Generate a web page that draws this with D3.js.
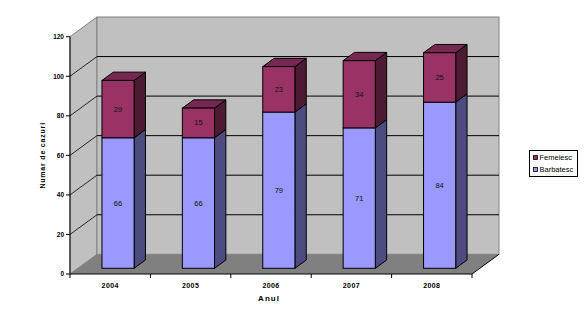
<!DOCTYPE html>
<html>
<head>
<meta charset="utf-8">
<script src="https://cdn.jsdelivr.net/npm/d3@7"></script>
<style>
  html, body { margin: 0; padding: 0; background: #fff; }
  svg { display: block; }
  text { font-family: Arial, "Liberation Sans", sans-serif; }
</style>
</head>
<body>
<svg id="chart" width="587" height="327"></svg>
<script>
// Cases per year, split by sex (stacked)
const years = ["2004", "2005", "2006", "2007", "2008"];
const barbatesc = [66, 66, 79, 71, 84];
const femeiesc = [29, 15, 23, 34, 25];
const yTicks = [0, 20, 40, 60, 80, 100, 120];
const seriesNames = ["Barbatesc", "Femeiesc"];

const svg = d3.select("#chart");

// Front plane of the 3D box
const x0 = 70, x1 = 472, yBase = 274, yTop = 36.7;
// Depth vector of the box (front -> back wall)
const DX = 27, DY = -19.7;

const x = d3.scaleBand().domain(years).range([x0, x1])
  .paddingInner(0.6).paddingOuter(0.3);
const y = d3.scaleLinear().domain([0, 120]).range([yBase, yTop]);

const colors = {
  Barbatesc: { front: "#9999ff", side: "#4c4c80", top: "#7a7acc" },
  Femeiesc: { front: "#993366", side: "#4d1a33", top: "#772850" }
};

const poly = pts => pts.map(p => p.join(",")).join(" ");

// Left side wall
svg.append("polygon")
  .attr("points", poly([[x0, y(120)], [x0 + DX, y(120) + DY], [x0 + DX, y(0) + DY], [x0, y(0)]]))
  .attr("fill", "#c0c0c0").attr("stroke", "#808080").attr("stroke-width", 1);

// Back wall
svg.append("rect")
  .attr("x", x0 + DX).attr("y", y(120) + DY)
  .attr("width", x1 - x0).attr("height", y(0) - y(120))
  .attr("fill", "#c0c0c0").attr("stroke", "#808080").attr("stroke-width", 1);

// Floor
svg.append("polygon")
  .attr("points", poly([[x0, y(0)], [x1, y(0)], [x1 + DX, y(0) + DY], [x0 + DX, y(0) + DY]]))
  .attr("fill", "#808080");

// Gridlines on back wall and left wall
const grid = svg.append("g");
yTicks.filter(t => t > 0 && t < 120).forEach(t => {
  grid.append("line")
    .attr("x1", x0 + DX).attr("x2", x1 + DX)
    .attr("y1", y(t) + DY).attr("y2", y(t) + DY)
    .attr("stroke", "#000").attr("stroke-width", 1);
  grid.append("line")
    .attr("x1", x0).attr("x2", x0 + DX)
    .attr("y1", y(t)).attr("y2", y(t) + DY)
    .attr("stroke", "#000").attr("stroke-width", 0.8);
});
// Right floor edge
svg.append("line")
  .attr("x1", x1).attr("y1", y(0)).attr("x2", x1 + DX).attr("y2", y(0) + DY)
  .attr("stroke", "#000").attr("stroke-width", 1);

// Bars: front face offset into the box and their own depth
const fOff = 0.29, bDepth = 0.42;
const ox = DX * fOff, oy = DY * fOff;
const bx = DX * bDepth, by = DY * bDepth;

const stacked = years.map((yr, i) => {
  const segs = [];
  let acc = 0;
  [["Barbatesc", barbatesc[i]], ["Femeiesc", femeiesc[i]]].forEach(([name, v]) => {
    segs.push({ year: yr, name, v, y0: acc, y1: acc + v });
    acc += v;
  });
  return segs;
});

const bars = svg.append("g");
stacked.forEach(segs => {
  segs.forEach((s, k) => {
    const L = x(s.year) + ox, R = L + x.bandwidth();
    const T = y(s.y1) + oy, B = y(s.y0) + oy;
    const c = colors[s.name];
    const g = bars.append("g");
    // side face
    g.append("polygon")
      .attr("points", poly([[R, T], [R + bx, T + by], [R + bx, B + by], [R, B]]))
      .attr("fill", c.side).attr("stroke", "#000").attr("stroke-width", 1);
    // top face (only visible on the uppermost segment)
    if (k === segs.length - 1) {
      g.append("polygon")
        .attr("points", poly([[L, T], [L + bx, T + by], [R + bx, T + by], [R, T]]))
        .attr("fill", c.top).attr("stroke", "#000").attr("stroke-width", 1);
    }
    // front face
    g.append("rect")
      .attr("x", L).attr("y", T).attr("width", R - L).attr("height", B - T)
      .attr("fill", c.front).attr("stroke", "#000").attr("stroke-width", 1);
    // value label
    g.append("text")
      .attr("x", (L + R) / 2).attr("y", (T + B) / 2 + 2.5)
      .attr("text-anchor", "middle")
      .attr("font-size", 7.5).attr("fill", "#111")
      .text(s.v);
  });
});

// Value axis
const yAxis = svg.append("g");
yAxis.append("line")
  .attr("x1", x0).attr("x2", x0).attr("y1", y(120)).attr("y2", y(0))
  .attr("stroke", "#000").attr("stroke-width", 1);
yTicks.forEach(t => {
  yAxis.append("line")
    .attr("x1", x0 - 4).attr("x2", x0).attr("y1", y(t)).attr("y2", y(t))
    .attr("stroke", "#000").attr("stroke-width", 1);
  yAxis.append("text")
    .attr("x", x0 - 6).attr("y", y(t) + 2.3)
    .attr("text-anchor", "end")
    .attr("font-size", 6.5).attr("font-weight", "bold")
    .text(t);
});

// Category axis
const xAxis = svg.append("g");
xAxis.append("line")
  .attr("x1", x0).attr("x2", x1).attr("y1", y(0)).attr("y2", y(0))
  .attr("stroke", "#000").attr("stroke-width", 1);
const step = x.step();
d3.range(years.length + 1).forEach(i => {
  const tx = x0 + i * step;
  xAxis.append("line")
    .attr("x1", tx).attr("x2", tx).attr("y1", y(0)).attr("y2", y(0) + 4)
    .attr("stroke", "#000").attr("stroke-width", 1);
});
years.forEach(yr => {
  xAxis.append("text")
    .attr("x", x(yr) + x.bandwidth() / 2).attr("y", 287.5)
    .attr("text-anchor", "middle")
    .attr("font-size", 7).attr("font-weight", "bold")
    .attr("letter-spacing", 0.4)
    .text(yr);
});

// Axis titles
svg.append("text")
  .attr("x", (x0 + x1) / 2 - 2).attr("y", 300.5)
  .attr("text-anchor", "middle")
  .attr("font-size", 8).attr("font-weight", "bold")
  .attr("letter-spacing", 1)
  .text("Anul");
svg.append("text")
  .attr("transform", `translate(44.5, ${(y(0) + y(120)) / 2}) rotate(-90)`)
  .attr("text-anchor", "middle")
  .attr("font-size", 7).attr("font-weight", "bold")
  .attr("letter-spacing", 0.8)
  .text("Numar de cazuri");

// Legend
const lg = svg.append("g");
lg.append("rect")
  .attr("x", 529.5).attr("y", 150.5).attr("width", 48).attr("height", 26)
  .attr("fill", "#fff").attr("stroke", "#000").attr("stroke-width", 1);
["Femeiesc", "Barbatesc"].forEach((name, i) => {
  const cy = 157.5 + i * 12;
  lg.append("rect")
    .attr("x", 533.5).attr("y", cy - 2).attr("width", 4).attr("height", 4)
    .attr("fill", colors[name].front).attr("stroke", "#000").attr("stroke-width", 0.8);
  lg.append("text")
    .attr("x", 539.5).attr("y", cy + 2.5)
    .attr("font-size", 7.5).attr("fill", "#000")
    .text(name);
});
</script>
</body>
</html>
